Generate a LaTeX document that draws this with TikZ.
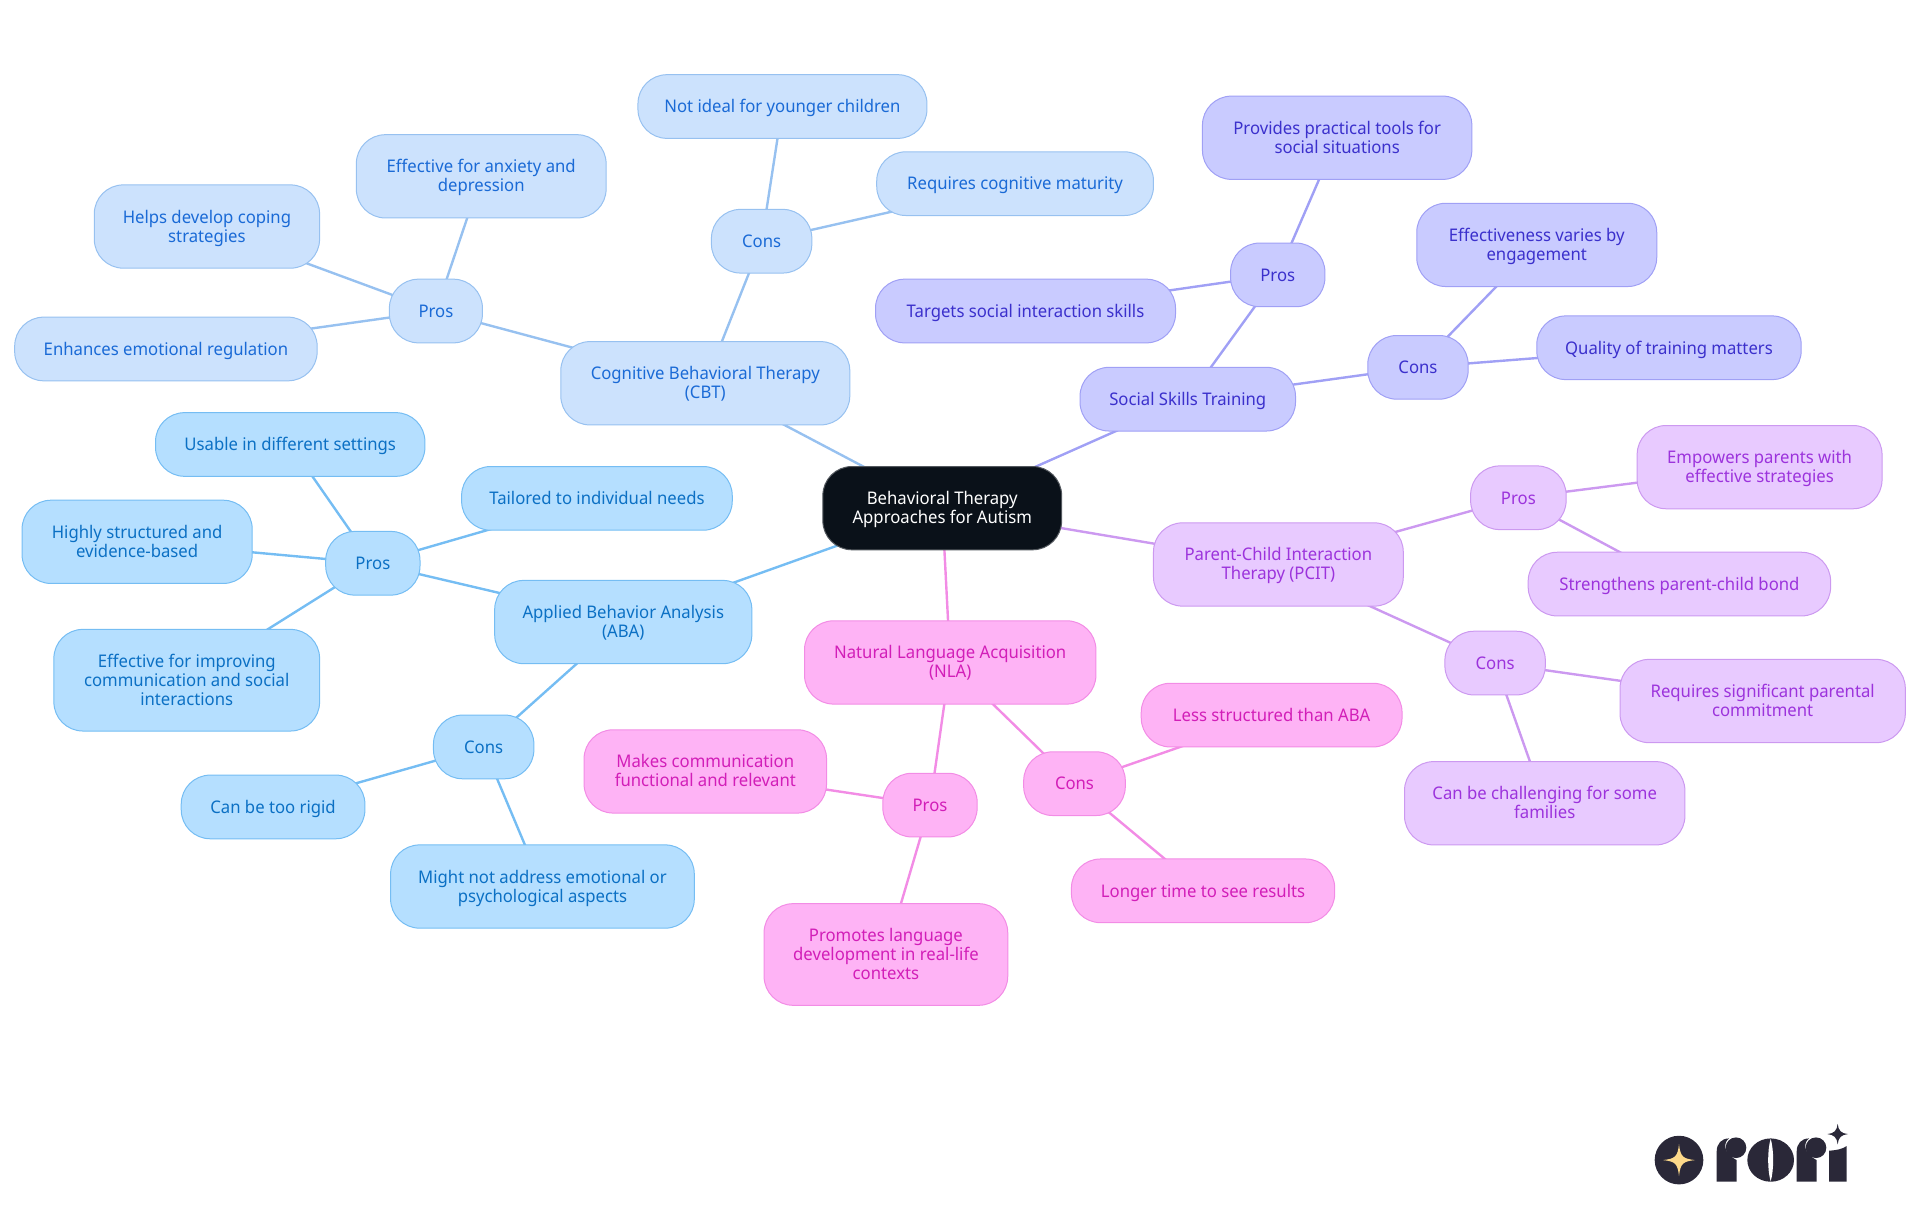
\documentclass[tikz,border=0pt]{standalone}
\usepackage{fontspec}
\setmainfont[FakeStretch=0.96]{Noto Sans}
\usetikzlibrary{backgrounds}
\definecolor{cbtfill}{HTML}{CCE2FD}
\definecolor{cbtedge}{HTML}{97C1F0}
\definecolor{cbttext}{HTML}{1A6AD6}
\definecolor{abafill}{HTML}{B5DFFF}
\definecolor{abaedge}{HTML}{75BDF3}
\definecolor{abatext}{HTML}{0B70C4}
\definecolor{ssfill}{HTML}{C9CBFF}
\definecolor{ssedge}{HTML}{A0A0F5}
\definecolor{sstext}{HTML}{3B30CC}
\definecolor{pcitfill}{HTML}{E8CAFF}
\definecolor{pcitedge}{HTML}{CC99F0}
\definecolor{pcittext}{HTML}{9C33DC}
\definecolor{nlafill}{HTML}{FEB3F5}
\definecolor{nlaedge}{HTML}{F28CE5}
\definecolor{nlatext}{HTML}{D21EB8}
\definecolor{rootfill}{HTML}{0A1119}
\definecolor{logodark}{HTML}{2A2838}
\definecolor{logostar}{HTML}{FDD98A}
\tikzset{
  mapbox/.style={rounded corners=14.5pt, line width=0.5pt, inner sep=0pt, align=center,
    font=\fontsize{8.7}{9.5}\selectfont, minimum height=52*0.6122pt,
    execute at begin node=\rule{0pt}{8.8pt},
    execute at end node=\rule[-2.5pt]{0pt}{2.5pt}},
  tall/.style={minimum height=68*0.6122pt, text height=18pt},
  taller/.style={minimum height=83*0.6122pt, text height=27.5pt},
  wide/.style={minimum width=#1*0.6122pt},
  rootbox/.style={mapbox, tall, fill=rootfill, draw=rootfill!70!white, text=white},
  cbtbox/.style={mapbox, fill=cbtfill, draw=cbtedge, text=cbttext},
  ababox/.style={mapbox, fill=abafill, draw=abaedge, text=abatext},
  ssbox/.style={mapbox, fill=ssfill, draw=ssedge, text=sstext},
  pcitbox/.style={mapbox, fill=pcitfill, draw=pcitedge, text=pcittext},
  nlabox/.style={mapbox, fill=nlafill, draw=nlaedge, text=nlatext},
  cbtline/.style={cbtedge, line width=1.2pt},
  abaline/.style={abaedge, line width=1.2pt},
  ssline/.style={ssedge, line width=1.2pt},
  pcitline/.style={pcitedge, line width=1.2pt},
  nlaline/.style={nlaedge, line width=1.2pt},
}
\begin{document}
\begin{tikzpicture}[x=0.6122pt,y=-0.6122pt]
\useasboundingbox (0,0) rectangle (1568,992.25);
%
\node (root) [rootbox, wide=195] at (769.5,415) {Behavioral Therapy\\Approaches for Autism};
%
\node (cbt) [cbtbox, tall, wide=236] at (576,313) {Cognitive Behavioral Therapy\\(CBT)};
\node (cbtpros) [cbtbox, wide=76] at (356,254) {Pros};
\node (anxiety) [cbtbox, tall, wide=204] at (393,144) {Effective for anxiety and\\depression};
\node (coping) [cbtbox, tall, wide=184] at (169,185) {Helps develop coping\\strategies};
\node (regulation) [cbtbox, wide=247] at (135.5,285) {Enhances emotional regulation};
\node (cbtcons) [cbtbox, wide=82] at (622,197) {Cons};
\node (younger) [cbtbox, wide=236] at (639,87) {Not ideal for younger children};
\node (maturity) [cbtbox, wide=226] at (829,150) {Requires cognitive maturity};
%
\node (ss) [ssbox, wide=176] at (970,326) {Social Skills Training};
\node (sspros) [ssbox, wide=77] at (1043.5,224.5) {Pros};
\node (tools) [ssbox, tall, wide=220] at (1092,112.5) {Provides practical tools for\\social situations};
\node (targets) [ssbox, wide=245] at (837.5,254) {Targets social interaction skills};
\node (sscons) [ssbox, wide=82] at (1158,300) {Cons};
\node (engagement) [ssbox, tall, wide=196] at (1255,200) {Effectiveness varies by\\engagement};
\node (quality) [ssbox, wide=216] at (1363,284) {Quality of training matters};
%
\node (pcit) [pcitbox, tall, wide=204] at (1044,461) {Parent-Child Interaction\\Therapy (PCIT)};
\node (pcitpros) [pcitbox, wide=78] at (1240,406.5) {Pros};
\node (empowers) [pcitbox, tall, wide=200] at (1437,381.5) {Empowers parents with\\effective strategies};
\node (bond) [pcitbox, wide=247] at (1371.5,477) {Strengthens parent-child bond};
\node (pcitcons) [pcitbox, wide=82] at (1221,541.5) {Cons};
\node (commitment) [pcitbox, tall, wide=233] at (1439.5,572.5) {Requires significant parental\\commitment};
\node (families) [pcitbox, tall, wide=229] at (1261.5,656) {Can be challenging for some\\families};
%
\node (nla) [nlabox, tall, wide=238] at (776,541) {Natural Language Acquisition\\(NLA)};
\node (nlapros) [nlabox, wide=77] at (759.5,657.5) {Pros};
\node (functional) [nlabox, tall, wide=198] at (576,630) {Makes communication\\functional and relevant};
\node (reallife) [nlabox, taller, wide=199] at (723.5,779.5) {Promotes language\\development in real-life\\contexts};
\node (nlacons) [nlabox, wide=83] at (877.5,640) {Cons};
\node (less) [nlabox, wide=213] at (1038.5,584) {Less structured than ABA};
\node (longer) [nlabox, wide=215] at (982.5,727.5) {Longer time to see results};
%
\node (aba) [ababox, tall, wide=210] at (509,508) {Applied Behavior Analysis\\(ABA)};
\node (abapros) [ababox, wide=77] at (304.5,460) {Pros};
\node (usable) [ababox, wide=220] at (237,363) {Usable in different settings};
\node (tailored) [ababox, wide=221] at (487.5,407) {Tailored to individual needs};
\node (structured) [ababox, tall, wide=188] at (112,442.5) {Highly structured and\\evidence-based};
\node (improving) [ababox, taller, wide=217] at (152.5,555.5) {Effective for improving\\communication and social\\interactions};
\node (abacons) [ababox, wide=82] at (395,610) {Cons};
\node (rigid) [ababox, wide=150] at (223,659) {Can be too rigid};
\node (aspects) [ababox, tall, wide=248] at (443,724) {Might not address emotional or\\psychological aspects};
%
\begin{scope}[on background layer]
\draw[cbtline] (root.center)--(cbt.center);
\draw[cbtline] (cbt.center)--(cbtpros.center);
\draw[cbtline] (cbtpros.center)--(anxiety.center);
\draw[cbtline] (cbtpros.center)--(coping.center);
\draw[cbtline] (cbtpros.center)--(regulation.center);
\draw[cbtline] (cbt.center)--(cbtcons.center);
\draw[cbtline] (cbtcons.center)--(younger.center);
\draw[cbtline] (cbtcons.center)--(maturity.center);
%
\draw[ssline] (root.center)--(ss.center);
\draw[ssline] (ss.center)--(sspros.center);
\draw[ssline] (sspros.center)--(tools.center);
\draw[ssline] (sspros.center)--(targets.center);
\draw[ssline] (ss.center)--(sscons.center);
\draw[ssline] (sscons.center)--(engagement.center);
\draw[ssline] (sscons.center)--(quality.center);
%
\draw[pcitline] (root.center)--(pcit.center);
\draw[pcitline] (pcit.center)--(pcitpros.center);
\draw[pcitline] (pcitpros.center)--(empowers.center);
\draw[pcitline] (pcitpros.center)--(bond.center);
\draw[pcitline] (pcit.center)--(pcitcons.center);
\draw[pcitline] (pcitcons.center)--(commitment.center);
\draw[pcitline] (pcitcons.center)--(families.center);
%
\draw[nlaline] (root.center)--(nla.center);
\draw[nlaline] (nla.center)--(nlapros.center);
\draw[nlaline] (nlapros.center)--(functional.center);
\draw[nlaline] (nlapros.center)--(reallife.center);
\draw[nlaline] (nla.center)--(nlacons.center);
\draw[nlaline] (nlacons.center)--(less.center);
\draw[nlaline] (nlacons.center)--(longer.center);
%
\draw[abaline] (root.center)--(aba.center);
\draw[abaline] (aba.center)--(abapros.center);
\draw[abaline] (abapros.center)--(usable.center);
\draw[abaline] (abapros.center)--(tailored.center);
\draw[abaline] (abapros.center)--(structured.center);
\draw[abaline] (abapros.center)--(improving.center);
\draw[abaline] (aba.center)--(abacons.center);
\draw[abaline] (abacons.center)--(rigid.center);
\draw[abaline] (abacons.center)--(aspects.center);
\end{scope}
%
% logo
\begin{scope}[shift={(1323,898.4)},scale=0.2722]
\fill[logodark] (177,180) circle (73);
\fill[logostar] (129,180) .. controls (165,176) and (173,170) .. (177,132) .. controls (181,170) and (189,176) .. (225,180) .. controls (189,184) and (181,190) .. (177,228) .. controls (173,190) and (165,184) .. (129,180) -- cycle;
\fill[logodark] (290,245) -- (290,155) .. controls (290,130) and (305,115) .. (327,115) .. controls (310,128) and (308,158) .. (350,180) -- (350,245) -- cycle;
\fill[logodark] (348,143) circle (31);
\fill[logodark] (452,180) ellipse (70 and 65);
\fill[white] (452,116) .. controls (442,150) and (442,210) .. (452,244) .. controls (462,210) and (462,150) .. (452,116) -- cycle;
\fill[logodark] (530,245) -- (530,155) .. controls (530,130) and (545,115) .. (567,115) .. controls (550,128) and (548,158) .. (590,180) -- (590,245) -- cycle;
\fill[logodark] (588,143) circle (31);
\fill[logodark] (627,245) -- (627,152) .. controls (650,150) and (665,148) .. (680,138) -- (680,245) -- cycle;
\fill[logodark] (622,102) .. controls (642,100) and (651,92) .. (653,71) .. controls (655,92) and (664,100) .. (684,102) .. controls (664,104) and (655,112) .. (653,133) .. controls (651,112) and (642,104) .. (622,102) -- cycle;
\end{scope}
\end{tikzpicture}
\end{document}
